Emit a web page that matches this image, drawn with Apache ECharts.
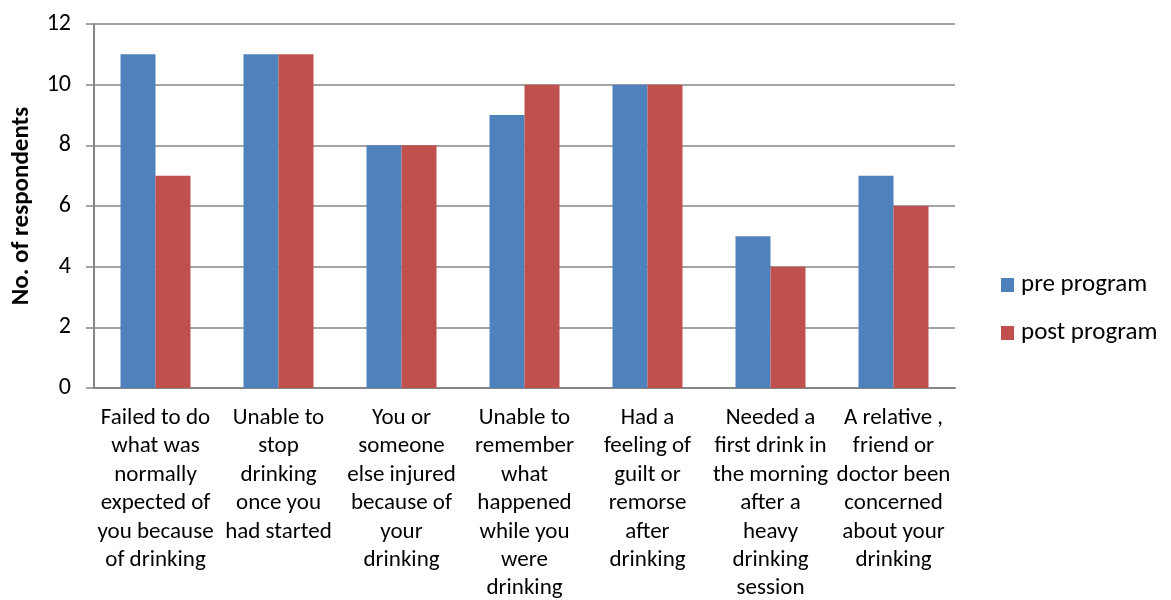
<!DOCTYPE html>
<html>
<head>
<meta charset="utf-8">
<script src="https://cdn.jsdelivr.net/npm/echarts@6/dist/echarts.min.js"></script>
<style>
  html, body { margin: 0; padding: 0; background: #fff; }
  #chart { width: 1171px; height: 600px; }
</style>
</head>
<body>
<div id="chart"></div>
<script>
// Drinking-related problems reported before and after the program
const categories = [
  "Failed to do\nwhat was\nnormally\nexpected of\nyou because\nof drinking",
  "Unable to\nstop\ndrinking\nonce you\nhad started",
  "You or\nsomeone\nelse injured\nbecause of\nyour\ndrinking",
  "Unable to\nremember\nwhat\nhappened\nwhile you\nwere\ndrinking",
  "Had a\nfeeling of\nguilt or\nremorse\nafter\ndrinking",
  "Needed a\nfirst drink in\nthe morning\nafter a\nheavy\ndrinking\nsession",
  "A relative ,\nfriend or\ndoctor been\nconcerned\nabout your\ndrinking"
];
const preProgram = [11, 11, 8, 9, 10, 5, 7];
const postProgram = [7, 11, 8, 10, 10, 4, 6];
const yTicks = [0, 2, 4, 6, 8, 10, 12];

const FONT = "Carlito, Calibri, 'Open Sans', sans-serif";

const chart = echarts.init(document.getElementById('chart'));
chart.setOption({
  animation: false,
  grid: { left: 94, right: 216, top: 24, bottom: 212, outerBoundsMode: 'none', containLabel: false },
  legend: {
    orient: 'vertical',
    left: 996,
    top: 266,
    itemWidth: 13,
    itemHeight: 14,
    itemGap: 20,
    icon: 'rect',
    textStyle: { fontFamily: FONT, fontSize: 25, lineHeight: 28, color: '#000', padding: [0, 0, 0, 2] },
    data: ['pre program', 'post program']
  },
  xAxis: {
    type: 'category',
    data: categories,
    axisLine: { lineStyle: { color: '#868686', width: 2 } },
    axisTick: { show: false },
    axisLabel: {
      interval: 0,
      margin: 16,
      fontFamily: FONT,
      fontSize: 23,
      lineHeight: 28.4,
      color: '#000',
      align: 'center'
    }
  },
  yAxis: {
    type: 'value',
    min: yTicks[0],
    max: yTicks[yTicks.length - 1],
    interval: 2,
    name: 'No. of respondents',
    nameLocation: 'middle',
    nameGap: 60,
    nameTextStyle: { fontFamily: FONT, fontSize: 25, fontWeight: 'bold', color: '#000' },
    axisLine: { show: true, lineStyle: { color: '#868686', width: 2 } },
    axisTick: { show: true, length: 8, lineStyle: { color: '#868686', width: 1.5 } },
    splitLine: { lineStyle: { color: '#868686', width: 1.5 } },
    axisLabel: { fontFamily: FONT, fontSize: 24, color: '#000', margin: 23 }
  },
  series: [
    {
      name: 'pre program',
      type: 'bar',
      data: preProgram,
      barWidth: 35,
      barGap: '0%',
      itemStyle: { color: '#4F81BD' }
    },
    {
      name: 'post program',
      type: 'bar',
      data: postProgram,
      barWidth: 35,
      barGap: '0%',
      itemStyle: { color: '#C0504D' }
    }
  ]
});
</script>
</body>
</html>
